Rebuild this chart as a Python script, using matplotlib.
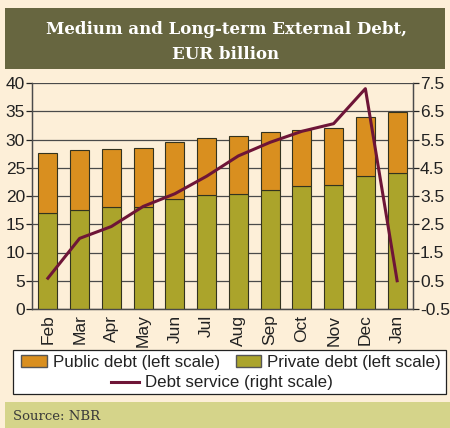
import matplotlib.pyplot as plt
import matplotlib.patches as mpatches
from matplotlib.lines import Line2D
import numpy as np

months = ["Feb", "Mar", "Apr", "May", "Jun", "Jul", "Aug", "Sep", "Oct", "Nov", "Dec", "Jan"]
private_debt = [17.0, 17.5, 18.1, 18.1, 19.4, 20.1, 20.4, 21.1, 21.7, 21.9, 23.5, 24.0]
total_debt = [27.6, 28.1, 28.3, 28.5, 29.6, 30.3, 30.7, 31.3, 31.7, 32.1, 33.9, 34.9]
debt_service = [0.59, 2.0, 2.42, 3.13, 3.58, 4.2, 4.92, 5.4, 5.79, 6.06, 7.3, 0.5]

public_debt = [t - p for t, p in zip(total_debt, private_debt)]

BG = "#fdefd8"
ORANGE = "#d98f1f"
OLIVE = "#aba42b"
MAROON = "#6e1537"
GRID = "#4a4a4a"
TICK_SIZE = 12.5
W, H = 450, 428

plt.rcParams['font.family'] = ['Liberation Sans', 'DejaVu Sans']

fig = plt.figure(figsize=(4.5, 4.28), dpi=100, facecolor=BG)

def fig_rect(x0, y0, x1, y1, **kw):
    # pixel box -> figure coords
    r = mpatches.Rectangle((x0 / W, 1 - y1 / H), (x1 - x0) / W, (y1 - y0) / H,
                           transform=fig.transFigure, **kw)
    fig.patches.append(r)
    return r

# title band and source band
fig_rect(5, 8, 445, 69, facecolor="#676640", edgecolor="none")
fig_rect(5, 402, 450, 428, facecolor="#d5d48a", edgecolor="none")
fig.text(226 / W, 1 - 42 / H, "Medium and Long-term External Debt,\nEUR billion",
         ha="center", va="center", color="white", fontsize=12, fontweight="bold",
         family=["DejaVu Serif"], linespacing=1.6)
fig.text(13 / W, 1 - 416 / H, "Source: NBR", ha="left", va="center",
         color="#3a3a3a", fontsize=9.5, family=["DejaVu Serif"])

ax = fig.add_axes([32 / W, 1 - 309 / H, (413 - 32) / W, (309 - 83) / H])
ax.set_facecolor(BG)
x = np.arange(len(months))
ax.bar(x, private_debt, width=0.6, color=OLIVE, edgecolor="#33331f", linewidth=0.8, zorder=3)
ax.bar(x, public_debt, bottom=private_debt, width=0.6, color=ORANGE,
       edgecolor="#33331f", linewidth=0.8, zorder=3)
ax.set_ylim(0, 40)
ax.set_xlim(-0.5, 11.5)
ax.set_yticks(np.arange(0, 41, 5))
ax.yaxis.grid(True, color=GRID, linewidth=0.9, zorder=0)
ax.set_axisbelow(True)
ax.set_xticks(x)
ax.set_xticklabels(months, rotation=90, fontsize=TICK_SIZE, color="#222222")
ax.tick_params(axis="x", length=0, pad=4)
ax.tick_params(axis="y", labelsize=TICK_SIZE, colors="#222222", length=4, width=0.9, pad=1)
ax.spines["top"].set_visible(False)
for s in ["left", "right", "bottom"]:
    ax.spines[s].set_color(GRID)
    ax.spines[s].set_linewidth(0.9)

ax2 = ax.twinx()
ax2.plot(x, debt_service, color=MAROON, linewidth=2.2, zorder=5)
ax2.set_ylim(-0.5, 7.5)
ax2.set_yticks(np.arange(-0.5, 7.6, 1.0))
ax2.set_yticklabels([f"{v:.1f}" for v in np.arange(-0.5, 7.6, 1.0)])
ax2.tick_params(axis="y", labelsize=TICK_SIZE, colors="#222222", length=4, width=0.9, pad=1)
ax2.spines["top"].set_visible(False)
for s in ["left", "right", "bottom"]:
    ax2.spines[s].set_color(GRID)
    ax2.spines[s].set_linewidth(0.9)

# legend box
fig_rect(13, 350, 446, 394, facecolor="white", edgecolor="#222222", linewidth=0.9)
h1 = [mpatches.Patch(facecolor=ORANGE, edgecolor="#555555", label="Public debt (left scale)"),
      mpatches.Patch(facecolor=OLIVE, edgecolor="#555555", label="Private debt (left scale)")]
fig.legend(handles=h1, loc="center", bbox_to_anchor=(231 / W, 1 - 362 / H), ncol=2,
           frameon=False, fontsize=12.2, handlelength=1.5, handleheight=0.7,
           handletextpad=0.35, columnspacing=0.95, borderpad=0, labelcolor="#222222")
h2 = [Line2D([], [], color=MAROON, linewidth=2.2, label="Debt service (right scale)")]
fig.legend(handles=h2, loc="center", bbox_to_anchor=(222 / W, 1 - 383 / H), frameon=False,
           fontsize=12.2, handlelength=1.65, handletextpad=0.35, borderpad=0, labelcolor="#222222")

fig.savefig("out.png", dpi=100, facecolor=BG)
